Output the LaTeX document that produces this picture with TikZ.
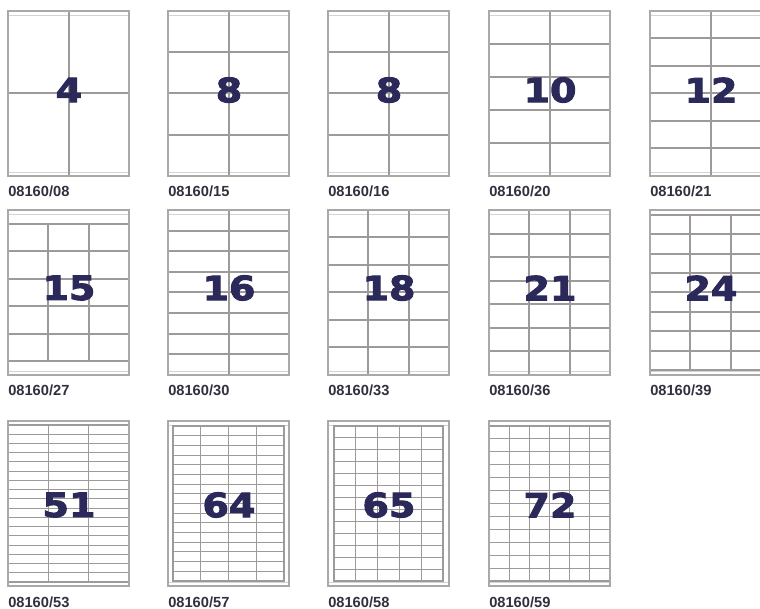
\documentclass[tikz,border=0pt]{standalone}
\usepackage{fontspec}
\setmainfont{Liberation Sans}[BoldFont={Liberation Sans Bold}]
\newfontfamily\numfont{DejaVu Sans Bold}[FakeBold=3, FakeStretch=1.14]
\definecolor{gridc}{HTML}{9E9A9A}
\definecolor{edgec}{HTML}{ABA8A8}
\definecolor{faintc}{HTML}{D4D2D2}
\definecolor{numc}{HTML}{2A295A}
\definecolor{lblc}{HTML}{30303F}
\tikzset{
  sheetedge/.style={draw=edgec, line width=1.2pt, fill=white},
  gridline/.style={draw=gridc, line width=\gw pt},
  faintline/.style={draw=faintc, line width=0.6pt},
  bignumber/.style={text=numc, inner sep=0pt, font=\numfont\fontsize{25}{26}\selectfont},
  sheetlabel/.style={text=lblc, inner sep=0pt, font=\bfseries\fontsize{11}{12}\selectfont},
}
% #1 node name, #2 x, #3 y, #4 cols, #5 rows, #6 vertical margin, #7 horizontal margin, #8 number, #9 label
\newcommand{\lblsheet}[9]{%
  \pgfmathsetmacro\ix{#2+#7}%
  \pgfmathsetmacro\iw{121-2*#7}%
  \pgfmathsetmacro\iy{#3+#6}%
  \pgfmathsetmacro\ih{165-2*#6}%
  \pgfmathtruncatemacro\cm{#4-1}%
  \pgfmathtruncatemacro\rm{#5-1}%
  \draw[sheetedge] (#2,#3) rectangle ++(121,165);
  \draw[faintline] (#2,#3+4) -- ++(121,0);
  \draw[faintline] (#2,#3+161) -- ++(121,0);
  \draw[gridline] (\ix,\iy) rectangle ++(\iw,\ih);
  \foreach \c in {1,...,\cm}{\draw[gridline] ({\ix+\c*\iw/#4},\iy) -- ++(0,\ih);}
  \foreach \r in {1,...,\rm}{\draw[gridline] (\ix,{\iy+\r*\ih/#5}) -- ++(\iw,0);}
  \draw[draw=edgec, line width=1.2pt] (#2,#3) rectangle ++(121,165);
  \node[bignumber] (n#1) at ({#2+61},{#3+\numoff}) {#8};
  \node[sheetlabel, anchor=base west] (l#1) at (#2,{#3+186}) {#9};
}
\begin{document}
\begin{tikzpicture}[x=0.75pt,y=-0.75pt]
\clip (0,0) rectangle (760,609);
\useasboundingbox (0,0) rectangle (760,609);
\def\numoff{79}\def\gw{1.5}
\lblsheet{a}{8}{11}{2}{2}{0}{0}{4}{08160/08}
\lblsheet{b}{168}{11}{2}{4}{0}{0}{8}{08160/15}
\lblsheet{c}{328}{11}{2}{4}{0}{0}{8}{08160/16}
\lblsheet{d}{489}{11}{2}{5}{0}{0}{10}{08160/20}
\lblsheet{e}{650}{11}{2}{6}{0}{0}{12}{08160/21}
\def\numoff{78}
\lblsheet{f}{8}{210}{3}{5}{14}{0}{15}{08160/27}
\lblsheet{g}{168}{210}{2}{8}{0}{0}{16}{08160/30}
\lblsheet{h}{328}{210}{3}{6}{0}{0}{18}{08160/33}
\lblsheet{i}{489}{210}{3}{7}{0}{0}{21}{08160/36}
\lblsheet{j}{650}{210}{3}{8}{5}{0}{24}{08160/39}
\def\numoff{84}\def\gw{0.8}
\lblsheet{k}{8}{421}{3}{17}{4}{0}{51}{08160/53}
\lblsheet{l}{168}{421}{4}{16}{5}{5}{64}{08160/57}
\lblsheet{m}{328}{421}{5}{13}{5}{6}{65}{08160/58}
\lblsheet{n}{489}{421}{6}{12}{5}{0}{72}{08160/59}
\end{tikzpicture}
\end{document}
